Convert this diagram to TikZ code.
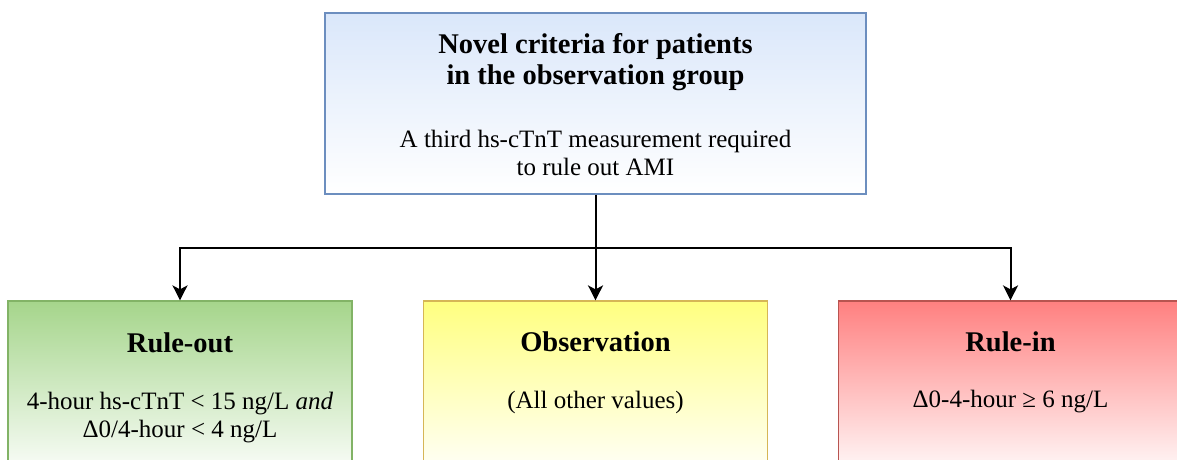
\documentclass[tikz,border=0pt]{standalone}
\usepackage{fontspec}
\setmainfont{Liberation Serif}
\usetikzlibrary{arrows.meta}

\definecolor{blueTop}{RGB}{218,231,250}
\definecolor{blueEdge}{RGB}{108,142,191}
\definecolor{greenTop}{RGB}{165,213,139}
\definecolor{greenEdge}{RGB}{130,179,102}
\definecolor{yellowTop}{RGB}{255,255,128}
\definecolor{yellowEdge}{RGB}{214,182,86}
\definecolor{redTop}{RGB}{255,128,128}
\definecolor{redEdge}{RGB}{184,84,80}

\tikzset{
  panel/.style={draw=#1Edge, top color=#1Top, bottom color=white,
    line width=1.2pt, inner sep=0pt, minimum width=344pt, minimum height=180pt},
  headtext/.style={anchor=base, inner sep=0pt,
    font=\fontsize{28.5}{31}\selectfont\bfseries},
  bodytext/.style={anchor=base, inner sep=0pt,
    font=\fontsize{25}{28.5}\selectfont},
  link/.style={line width=2pt, draw=black},
  linkarrow/.style={link, -{Stealth[length=15pt, width=15pt, inset=4pt]}}
}

\newcommand{\lines}[1]{\begin{tabular}[t]{@{}c@{}}#1\end{tabular}}

\begin{document}
\begin{tikzpicture}[x=1pt, y=-1pt]
  \useasboundingbox (0,0) rectangle (1177,460);
  \clip (0,0) rectangle (1177,460);

  % criteria box
  \node[panel=blue, minimum width=541pt, minimum height=181pt] (top) at (595.5,103.5) {};
  \node[headtext] (topHead) at (595.5,53) {\lines{Novel criteria for patients\\in the observation group}};
  \node[bodytext] (topBody) at (595.5,147) {\lines{A third hs-cTnT measurement required\\to rule out AMI}};

  % outcome boxes
  \node[panel=green]  (lbox) at (180,391)    {};
  \node[panel=yellow] (mbox) at (595.5,391)  {};
  \node[panel=red]    (rbox) at (1010.5,391) {};

  \node[headtext] (lHead) at (180,352) {Rule-out};
  \node[bodytext] (lBody) at (180,409) {\lines{4-hour hs-cTnT < 15 ng/L \textit{and}\\Δ0/4-hour < 4 ng/L}};

  \node[headtext] (mHead) at (595.5,351) {Observation};
  \node[bodytext] (mBody) at (595.5,408) {(All other values)};

  \node[headtext] (rHead) at (1010.5,351) {Rule-in};
  \node[bodytext] (rBody) at (1010.5,407) {Δ0-4-hour ≥ 6 ng/L};

  % connectors
  \coordinate (split) at (595.5,248);
  \draw[linkarrow] (top.south) -- (mbox.north);
  \draw[linkarrow] (split) -| (lbox.north);
  \draw[linkarrow] (split) -| (rbox.north);
\end{tikzpicture}
\end{document}
